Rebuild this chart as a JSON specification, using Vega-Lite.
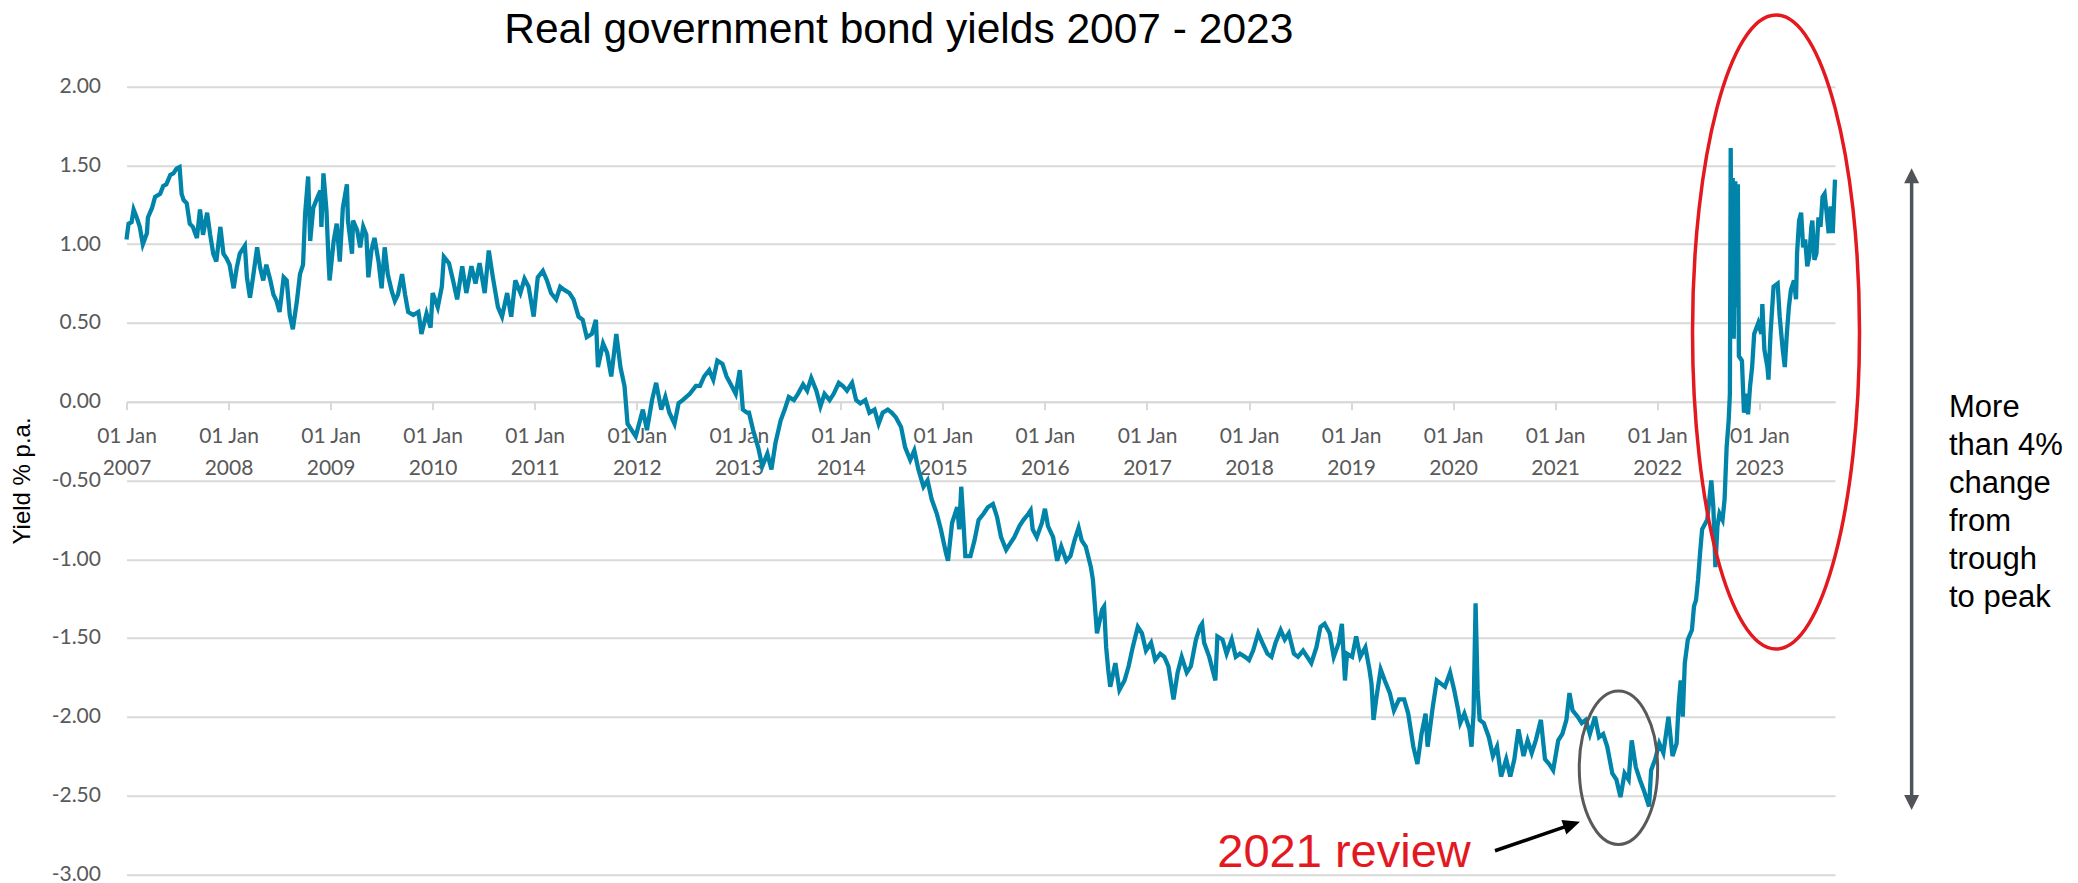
{
  "$schema": "https://vega.github.io/schema/vega-lite/v6.json",
  "width": 1708.5,
  "height": 787.5,
  "autosize": {"type": "none"},
  "padding": {"left": 126.5, "top": 86.7, "right": 243, "bottom": 8.8},
  "background": "white",
  "config": {"view": {"stroke": null}},
  "title": {
    "text": "Real government bond yields 2007 - 2023",
    "anchor": "middle",
    "frame": "group",
    "dx": -82,
    "dy": 73,
    "offset": 30,
    "font": "Liberation Sans",
    "fontSize": 42.5,
    "fontWeight": "normal",
    "color": "#000000"
  },
  "encoding": {
    "x": {
      "field": "t",
      "type": "quantitative",
      "scale": {"domain": [2007, 2023.742], "nice": false, "zero": false},
      "axis": {
        "orient": "bottom",
        "offset": -472.5,
        "values": [2007, 2008, 2009, 2010, 2011, 2012, 2013, 2014, 2015, 2016, 2017, 2018, 2019, 2020, 2021, 2022, 2023],
        "labelExpr": "['01 Jan', format(datum.value, 'd')]",
        "labelLineHeight": 32,
        "labelFont": "Lato",
        "labelFontSize": 21,
        "labelColor": "#595959",
        "labelPadding": 16,
        "labelOverlap": false,
        "labelFlush": false,
        "tickColor": "#D9D9D9",
        "tickSize": 8,
        "tickWidth": 2,
        "domainColor": "#D9D9D9",
        "domainWidth": 2,
        "grid": false,
        "title": null
      }
    },
    "y": {
      "field": "y",
      "type": "quantitative",
      "scale": {"domain": [-3, 2], "nice": false, "zero": false},
      "axis": {
        "values": [-3, -2.5, -2, -1.5, -1, -0.5, 0, 0.5, 1, 1.5, 2],
        "labelExpr": "replace(format(datum.value, '.2f'), '\u2212', '-')",
        "grid": true,
        "gridColor": "#D9D9D9",
        "gridWidth": 2,
        "domain": false,
        "ticks": false,
        "tickSize": 0,
        "labelPadding": 26,
        "labelFont": "Lato",
        "labelFontSize": 21,
        "labelColor": "#595959",
        "title": "Yield % p.a.",
        "titleFont": "Liberation Sans",
        "titleFontSize": 24,
        "titleFontWeight": "normal",
        "titleColor": "#000000",
        "titleAngle": 270,
        "titleX": -97.5,
        "titleY": 393.75,
        "titleAlign": "center",
        "titleBaseline": "alphabetic"
      }
    }
  },
  "layer": [
    {
      "data": {"values": [
        {"t":2007.00,"y":1.03},{"t":2007.02,"y":1.13},{"t":2007.05,"y":1.14},{"t":2007.07,"y":1.22},{"t":2007.10,"y":1.17},{"t":2007.13,"y":1.11},{"t":2007.16,"y":1.00},{"t":2007.20,"y":1.07},{"t":2007.21,"y":1.17},{"t":2007.25,"y":1.23},{"t":2007.28,"y":1.30},{"t":2007.33,"y":1.32},{"t":2007.36,"y":1.37},{"t":2007.39,"y":1.38},{"t":2007.43,"y":1.44},{"t":2007.46,"y":1.45},{"t":2007.49,"y":1.48},{"t":2007.52,"y":1.49},{"t":2007.54,"y":1.32},{"t":2007.56,"y":1.28},{"t":2007.59,"y":1.26},{"t":2007.62,"y":1.13},{"t":2007.65,"y":1.11},{"t":2007.69,"y":1.04},{"t":2007.72,"y":1.22},{"t":2007.75,"y":1.06},{"t":2007.79,"y":1.20},{"t":2007.82,"y":1.06},{"t":2007.85,"y":0.94},{"t":2007.88,"y":0.89},{"t":2007.92,"y":1.11},{"t":2007.95,"y":0.94},{"t":2007.98,"y":0.91},
        {"t":2008.01,"y":0.87},{"t":2008.05,"y":0.72},{"t":2008.08,"y":0.85},{"t":2008.11,"y":0.94},{"t":2008.16,"y":0.99},{"t":2008.18,"y":0.79},{"t":2008.21,"y":0.66},{"t":2008.24,"y":0.79},{"t":2008.28,"y":0.98},{"t":2008.31,"y":0.85},{"t":2008.34,"y":0.77},{"t":2008.37,"y":0.87},{"t":2008.41,"y":0.77},{"t":2008.44,"y":0.68},{"t":2008.47,"y":0.64},{"t":2008.50,"y":0.57},{"t":2008.54,"y":0.79},{"t":2008.57,"y":0.77},{"t":2008.60,"y":0.55},{"t":2008.63,"y":0.46},{"t":2008.67,"y":0.64},{"t":2008.70,"y":0.81},{"t":2008.73,"y":0.87},{"t":2008.75,"y":1.19},{"t":2008.78,"y":1.43},{"t":2008.80,"y":1.02},{"t":2008.83,"y":1.23},{"t":2008.86,"y":1.28},{"t":2008.90,"y":1.34},{"t":2008.91,"y":1.11},{"t":2008.93,"y":1.45},{"t":2008.96,"y":1.21},{"t":2008.98,"y":0.89},{"t":2008.99,"y":0.77},
        {"t":2009.03,"y":1.02},{"t":2009.06,"y":1.13},{"t":2009.09,"y":0.89},{"t":2009.12,"y":1.23},{"t":2009.16,"y":1.38},{"t":2009.17,"y":1.15},{"t":2009.21,"y":0.94},{"t":2009.22,"y":1.15},{"t":2009.26,"y":1.09},{"t":2009.29,"y":0.98},{"t":2009.32,"y":1.11},{"t":2009.35,"y":1.06},{"t":2009.37,"y":0.79},{"t":2009.40,"y":0.96},{"t":2009.43,"y":1.04},{"t":2009.47,"y":0.89},{"t":2009.50,"y":0.72},{"t":2009.53,"y":0.98},{"t":2009.56,"y":0.81},{"t":2009.60,"y":0.70},{"t":2009.63,"y":0.64},{"t":2009.66,"y":0.68},{"t":2009.70,"y":0.81},{"t":2009.73,"y":0.68},{"t":2009.76,"y":0.57},{"t":2009.81,"y":0.55},{"t":2009.86,"y":0.57},{"t":2009.87,"y":0.53},{"t":2009.89,"y":0.43},{"t":2009.94,"y":0.56},{"t":2009.98,"y":0.47},
        {"t":2010.00,"y":0.69},{"t":2010.05,"y":0.60},{"t":2010.09,"y":0.73},{"t":2010.11,"y":0.92},{"t":2010.16,"y":0.88},{"t":2010.20,"y":0.77},{"t":2010.24,"y":0.65},{"t":2010.29,"y":0.86},{"t":2010.33,"y":0.69},{"t":2010.38,"y":0.86},{"t":2010.42,"y":0.75},{"t":2010.46,"y":0.88},{"t":2010.51,"y":0.69},{"t":2010.55,"y":0.96},{"t":2010.59,"y":0.79},{"t":2010.64,"y":0.60},{"t":2010.68,"y":0.54},{"t":2010.73,"y":0.69},{"t":2010.77,"y":0.54},{"t":2010.81,"y":0.77},{"t":2010.86,"y":0.69},{"t":2010.90,"y":0.78},{"t":2010.94,"y":0.73},{"t":2010.99,"y":0.54},
        {"t":2011.03,"y":0.79},{"t":2011.08,"y":0.83},{"t":2011.12,"y":0.77},{"t":2011.16,"y":0.69},{"t":2011.21,"y":0.65},{"t":2011.25,"y":0.73},{"t":2011.29,"y":0.71},{"t":2011.34,"y":0.69},{"t":2011.38,"y":0.65},{"t":2011.43,"y":0.54},{"t":2011.47,"y":0.52},{"t":2011.51,"y":0.41},{"t":2011.56,"y":0.43},{"t":2011.60,"y":0.52},{"t":2011.62,"y":0.22},{"t":2011.67,"y":0.37},{"t":2011.71,"y":0.31},{"t":2011.75,"y":0.16},{"t":2011.80,"y":0.43},{"t":2011.84,"y":0.22},{"t":2011.88,"y":0.10},{"t":2011.91,"y":-0.14},{"t":2011.95,"y":-0.18},{"t":2011.99,"y":-0.22},
        {"t":2012.06,"y":-0.05},{"t":2012.10,"y":-0.18},{"t":2012.15,"y":0.01},{"t":2012.19,"y":0.12},{"t":2012.24,"y":-0.05},{"t":2012.28,"y":0.03},{"t":2012.32,"y":-0.07},{"t":2012.37,"y":-0.14},{"t":2012.41,"y":-0.01},{"t":2012.45,"y":0.01},{"t":2012.52,"y":0.05},{"t":2012.58,"y":0.10},{"t":2012.62,"y":0.10},{"t":2012.66,"y":0.16},{"t":2012.71,"y":0.20},{"t":2012.75,"y":0.14},{"t":2012.79,"y":0.26},{"t":2012.84,"y":0.24},{"t":2012.88,"y":0.16},{"t":2012.93,"y":0.10},{"t":2012.97,"y":0.05},
        {"t":2013.01,"y":0.20},{"t":2013.04,"y":-0.05},{"t":2013.08,"y":-0.07},{"t":2013.10,"y":-0.07},{"t":2013.14,"y":-0.18},{"t":2013.19,"y":-0.29},{"t":2013.23,"y":-0.41},{"t":2013.28,"y":-0.33},{"t":2013.32,"y":-0.43},{"t":2013.36,"y":-0.26},{"t":2013.41,"y":-0.12},{"t":2013.45,"y":-0.05},{"t":2013.49,"y":0.03},{"t":2013.54,"y":0.01},{"t":2013.58,"y":0.05},{"t":2013.63,"y":0.11},{"t":2013.67,"y":0.07},{"t":2013.71,"y":0.15},{"t":2013.76,"y":0.07},{"t":2013.80,"y":-0.03},{"t":2013.84,"y":0.05},{"t":2013.89,"y":0.01},{"t":2013.93,"y":0.05},{"t":2013.98,"y":0.12},
        {"t":2014.02,"y":0.10},{"t":2014.06,"y":0.07},{"t":2014.11,"y":0.12},{"t":2014.15,"y":0.01},{"t":2014.19,"y":-0.01},{"t":2014.24,"y":0.01},{"t":2014.28,"y":-0.07},{"t":2014.33,"y":-0.05},{"t":2014.37,"y":-0.14},{"t":2014.41,"y":-0.07},{"t":2014.46,"y":-0.05},{"t":2014.50,"y":-0.07},{"t":2014.54,"y":-0.10},{"t":2014.59,"y":-0.16},{"t":2014.63,"y":-0.29},{"t":2014.68,"y":-0.37},{"t":2014.72,"y":-0.31},{"t":2014.76,"y":-0.43},{"t":2014.81,"y":-0.54},{"t":2014.85,"y":-0.50},{"t":2014.89,"y":-0.62},{"t":2014.94,"y":-0.71},{"t":2014.98,"y":-0.81},
        {"t":2015.03,"y":-0.96},{"t":2015.05,"y":-1.01},{"t":2015.09,"y":-0.77},{"t":2015.14,"y":-0.67},{"t":2015.16,"y":-0.81},{"t":2015.18,"y":-0.54},{"t":2015.20,"y":-0.75},{"t":2015.22,"y":-0.98},{"t":2015.27,"y":-0.98},{"t":2015.31,"y":-0.88},{"t":2015.35,"y":-0.75},{"t":2015.40,"y":-0.71},{"t":2015.44,"y":-0.67},{"t":2015.49,"y":-0.65},{"t":2015.53,"y":-0.73},{"t":2015.57,"y":-0.86},{"t":2015.62,"y":-0.94},{"t":2015.66,"y":-0.90},{"t":2015.70,"y":-0.86},{"t":2015.75,"y":-0.79},{"t":2015.79,"y":-0.75},{"t":2015.84,"y":-0.71},{"t":2015.86,"y":-0.69},{"t":2015.88,"y":-0.81},{"t":2015.92,"y":-0.86},{"t":2015.97,"y":-0.77},
        {"t":2016.00,"y":-0.68},{"t":2016.03,"y":-0.79},{"t":2016.08,"y":-0.86},{"t":2016.12,"y":-1.01},{"t":2016.16,"y":-0.92},{"t":2016.21,"y":-1.01},{"t":2016.25,"y":-0.98},{"t":2016.29,"y":-0.88},{"t":2016.33,"y":-0.80},{"t":2016.36,"y":-0.88},{"t":2016.40,"y":-0.92},{"t":2016.45,"y":-1.05},{"t":2016.47,"y":-1.13},{"t":2016.49,"y":-1.30},{"t":2016.51,"y":-1.47},{"t":2016.56,"y":-1.32},{"t":2016.58,"y":-1.30},{"t":2016.60,"y":-1.56},{"t":2016.62,"y":-1.70},{"t":2016.64,"y":-1.81},{"t":2016.69,"y":-1.66},{"t":2016.73,"y":-1.83},{"t":2016.78,"y":-1.77},{"t":2016.82,"y":-1.68},{"t":2016.86,"y":-1.56},{"t":2016.91,"y":-1.43},{"t":2016.95,"y":-1.47},{"t":2016.99,"y":-1.58},
        {"t":2017.04,"y":-1.53},{"t":2017.08,"y":-1.64},{"t":2017.13,"y":-1.60},{"t":2017.17,"y":-1.62},{"t":2017.21,"y":-1.68},{"t":2017.26,"y":-1.89},{"t":2017.30,"y":-1.72},{"t":2017.34,"y":-1.62},{"t":2017.39,"y":-1.72},{"t":2017.43,"y":-1.68},{"t":2017.48,"y":-1.51},{"t":2017.52,"y":-1.43},{"t":2017.54,"y":-1.41},{"t":2017.56,"y":-1.53},{"t":2017.61,"y":-1.62},{"t":2017.65,"y":-1.72},{"t":2017.67,"y":-1.77},{"t":2017.69,"y":-1.49},{"t":2017.74,"y":-1.51},{"t":2017.78,"y":-1.60},{"t":2017.83,"y":-1.51},{"t":2017.87,"y":-1.62},{"t":2017.91,"y":-1.60},{"t":2017.96,"y":-1.62},
        {"t":2018.00,"y":-1.64},{"t":2018.04,"y":-1.58},{"t":2018.09,"y":-1.47},{"t":2018.13,"y":-1.53},{"t":2018.18,"y":-1.60},{"t":2018.22,"y":-1.62},{"t":2018.26,"y":-1.53},{"t":2018.31,"y":-1.45},{"t":2018.35,"y":-1.51},{"t":2018.39,"y":-1.47},{"t":2018.44,"y":-1.60},{"t":2018.48,"y":-1.62},{"t":2018.53,"y":-1.58},{"t":2018.57,"y":-1.62},{"t":2018.61,"y":-1.66},{"t":2018.66,"y":-1.56},{"t":2018.70,"y":-1.43},{"t":2018.74,"y":-1.41},{"t":2018.79,"y":-1.47},{"t":2018.83,"y":-1.62},{"t":2018.88,"y":-1.53},{"t":2018.91,"y":-1.41},{"t":2018.94,"y":-1.77},{"t":2018.96,"y":-1.60},
        {"t":2019.01,"y":-1.62},{"t":2019.05,"y":-1.49},{"t":2019.09,"y":-1.62},{"t":2019.14,"y":-1.56},{"t":2019.18,"y":-1.70},{"t":2019.20,"y":-1.79},{"t":2019.22,"y":-2.02},{"t":2019.25,"y":-1.87},{"t":2019.29,"y":-1.70},{"t":2019.33,"y":-1.77},{"t":2019.38,"y":-1.85},{"t":2019.42,"y":-1.96},{"t":2019.47,"y":-1.89},{"t":2019.52,"y":-1.89},{"t":2019.56,"y":-1.98},{"t":2019.61,"y":-2.19},{"t":2019.65,"y":-2.30},{"t":2019.69,"y":-2.11},{"t":2019.73,"y":-1.98},{"t":2019.75,"y":-2.19},{"t":2019.80,"y":-1.94},{"t":2019.84,"y":-1.77},{"t":2019.88,"y":-1.79},{"t":2019.92,"y":-1.81},{"t":2019.97,"y":-1.72},
        {"t":2020.01,"y":-1.83},{"t":2020.05,"y":-1.96},{"t":2020.07,"y":-2.04},{"t":2020.11,"y":-1.98},{"t":2020.16,"y":-2.08},{"t":2020.18,"y":-2.19},{"t":2020.20,"y":-1.98},{"t":2020.22,"y":-1.28},{"t":2020.24,"y":-1.83},{"t":2020.26,"y":-2.02},{"t":2020.30,"y":-2.04},{"t":2020.35,"y":-2.13},{"t":2020.39,"y":-2.25},{"t":2020.43,"y":-2.19},{"t":2020.47,"y":-2.38},{"t":2020.52,"y":-2.27},{"t":2020.56,"y":-2.38},{"t":2020.60,"y":-2.27},{"t":2020.64,"y":-2.08},{"t":2020.69,"y":-2.25},{"t":2020.73,"y":-2.15},{"t":2020.77,"y":-2.23},{"t":2020.81,"y":-2.15},{"t":2020.86,"y":-2.02},{"t":2020.90,"y":-2.27},{"t":2020.94,"y":-2.30},{"t":2020.98,"y":-2.34},
        {"t":2021.03,"y":-2.15},{"t":2021.07,"y":-2.11},{"t":2021.11,"y":-2.02},{"t":2021.14,"y":-1.85},{"t":2021.17,"y":-1.96},{"t":2021.22,"y":-2.00},{"t":2021.26,"y":-2.04},{"t":2021.30,"y":-2.02},{"t":2021.34,"y":-2.11},{"t":2021.39,"y":-2.00},{"t":2021.43,"y":-2.13},{"t":2021.47,"y":-2.11},{"t":2021.51,"y":-2.19},{"t":2021.56,"y":-2.36},{"t":2021.60,"y":-2.40},{"t":2021.64,"y":-2.51},{"t":2021.68,"y":-2.36},{"t":2021.72,"y":-2.40},{"t":2021.75,"y":-2.15},{"t":2021.79,"y":-2.32},{"t":2021.83,"y":-2.40},{"t":2021.87,"y":-2.47},{"t":2021.92,"y":-2.57},{"t":2021.94,"y":-2.34},{"t":2021.98,"y":-2.27},
        {"t":2022.02,"y":-2.17},{"t":2022.06,"y":-2.23},{"t":2022.11,"y":-2.00},{"t":2022.15,"y":-2.25},{"t":2022.19,"y":-2.17},{"t":2022.21,"y":-1.92},{"t":2022.23,"y":-1.77},{"t":2022.25,"y":-2.00},{"t":2022.27,"y":-1.66},{"t":2022.30,"y":-1.51},{"t":2022.34,"y":-1.45},{"t":2022.36,"y":-1.30},{"t":2022.38,"y":-1.26},{"t":2022.40,"y":-1.13},{"t":2022.42,"y":-0.96},{"t":2022.44,"y":-0.81},{"t":2022.49,"y":-0.75},{"t":2022.53,"y":-0.50},{"t":2022.55,"y":-0.67},{"t":2022.57,"y":-1.05},{"t":2022.59,"y":-0.79},{"t":2022.61,"y":-0.71},{"t":2022.64,"y":-0.75},{"t":2022.66,"y":-0.62},{"t":2022.68,"y":-0.29},{"t":2022.70,"y":-0.12},{"t":2022.712,"y":0.05},{"t":2022.72,"y":1.61},{"t":2022.73,"y":0.50},{"t":2022.74,"y":1.42},{"t":2022.75,"y":0.40},{"t":2022.765,"y":1.40},{"t":2022.78,"y":0.60},{"t":2022.79,"y":1.38},{"t":2022.80,"y":0.29},{"t":2022.83,"y":0.26},{"t":2022.85,"y":-0.07},{"t":2022.87,"y":0.05},{"t":2022.89,"y":-0.08},{"t":2022.91,"y":0.10},{"t":2022.93,"y":0.22},{"t":2022.95,"y":0.43},{"t":2022.99,"y":0.50},
        {"t":2023.02,"y":0.43},{"t":2023.03,"y":0.62},{"t":2023.05,"y":0.33},{"t":2023.08,"y":0.22},{"t":2023.09,"y":0.14},{"t":2023.11,"y":0.43},{"t":2023.14,"y":0.73},{"t":2023.18,"y":0.75},{"t":2023.20,"y":0.54},{"t":2023.23,"y":0.33},{"t":2023.25,"y":0.22},{"t":2023.27,"y":0.43},{"t":2023.29,"y":0.60},{"t":2023.31,"y":0.71},{"t":2023.34,"y":0.77},{"t":2023.36,"y":0.65},{"t":2023.37,"y":0.94},{"t":2023.39,"y":1.15},{"t":2023.41,"y":1.20},{"t":2023.43,"y":0.98},{"t":2023.45,"y":1.03},{"t":2023.47,"y":0.86},{"t":2023.49,"y":0.92},{"t":2023.51,"y":1.11},{"t":2023.52,"y":1.15},{"t":2023.54,"y":0.90},{"t":2023.56,"y":0.94},{"t":2023.58,"y":1.17},{"t":2023.60,"y":1.11},{"t":2023.62,"y":1.30},{"t":2023.64,"y":1.32},{"t":2023.66,"y":1.20},{"t":2023.68,"y":1.07},{"t":2023.70,"y":1.24},{"t":2023.72,"y":1.07},{"t":2023.742,"y":1.41}
      ]},
      "mark": {"type": "line", "color": "#0084A9", "strokeWidth": 4.3, "strokeJoin": "miter"}
    },
    {
      "data": {"values": [{"t": 2023.164, "y": 0.4425}]},
      "mark": {"type": "point", "shape": "M 0 -1 A 0.2634 1 0 1 1 0 1 A 0.2634 1 0 1 1 0 -1 Z", "size": 401956, "filled": false, "stroke": "#E3191F", "strokeWidth": 3.5, "opacity": 1, "strokeOpacity": 1}
    },
    {
      "data": {"values": [{"t": 2021.620, "y": -2.324}]},
      "mark": {"type": "point", "shape": "M 0 -1 A 0.511 1 0 1 1 0 1 A 0.511 1 0 1 1 0 -1 Z", "size": 23532, "filled": false, "stroke": "#595959", "strokeWidth": 3, "opacity": 1, "strokeOpacity": 1}
    },
    {
      "data": {"values": [
        {"t": 2020.410, "y": -2.851, "t2": 2021.150, "y2": -2.687},
        {"t": 2024.493, "y": 1.433, "t2": 2024.493, "y2": -2.542}
      ]},
      "mark": {"type": "rule", "strokeWidth": 3.5, "color": "#000000"},
      "encoding": {
        "x2": {"field": "t2"},
        "y2": {"field": "y2"},
        "color": {"condition": {"test": "datum.t > 2024", "value": "#505357"}, "value": "#000000"}
      }
    },
    {
      "data": {"values": [{"t": 2021.243, "y": -2.667}]},
      "mark": {"type": "point", "shape": "M 0 0 L -1 -0.45 L -1 0.45 Z", "size": 1156, "angle": 341.16, "filled": true, "fill": "#000000", "strokeWidth": 0, "opacity": 1}
    },
    {
      "data": {"values": [{"t": 2024.493, "y": 1.482}]},
      "mark": {"type": "point", "shape": "M 0 0 L 0.5 1 L -0.5 1 Z", "size": 900, "filled": true, "fill": "#505357", "strokeWidth": 0, "opacity": 1}
    },
    {
      "data": {"values": [{"t": 2024.493, "y": -2.592}]},
      "mark": {"type": "point", "shape": "M 0 0 L 0.5 -1 L -0.5 -1 Z", "size": 900, "filled": true, "fill": "#505357", "strokeWidth": 0, "opacity": 1}
    },
    {
      "data": {"values": [{"t": 2024.859, "y": -0.097, "label": "More\nthan 4%\nchange\nfrom\ntrough\nto peak"}]},
      "mark": {"type": "text", "align": "left", "baseline": "alphabetic", "lineBreak": "\n", "lineHeight": 38, "font": "Liberation Sans", "fontSize": 31, "color": "#000000"},
      "encoding": {"text": {"field": "label"}}
    },
    {
      "data": {"values": [{"t": 2017.689, "y": -2.956, "label": "2021 review"}]},
      "mark": {"type": "text", "align": "left", "baseline": "alphabetic", "font": "Liberation Sans", "fontSize": 47, "color": "#E3191F"},
      "encoding": {"text": {"field": "label"}}
    }
  ]
}
